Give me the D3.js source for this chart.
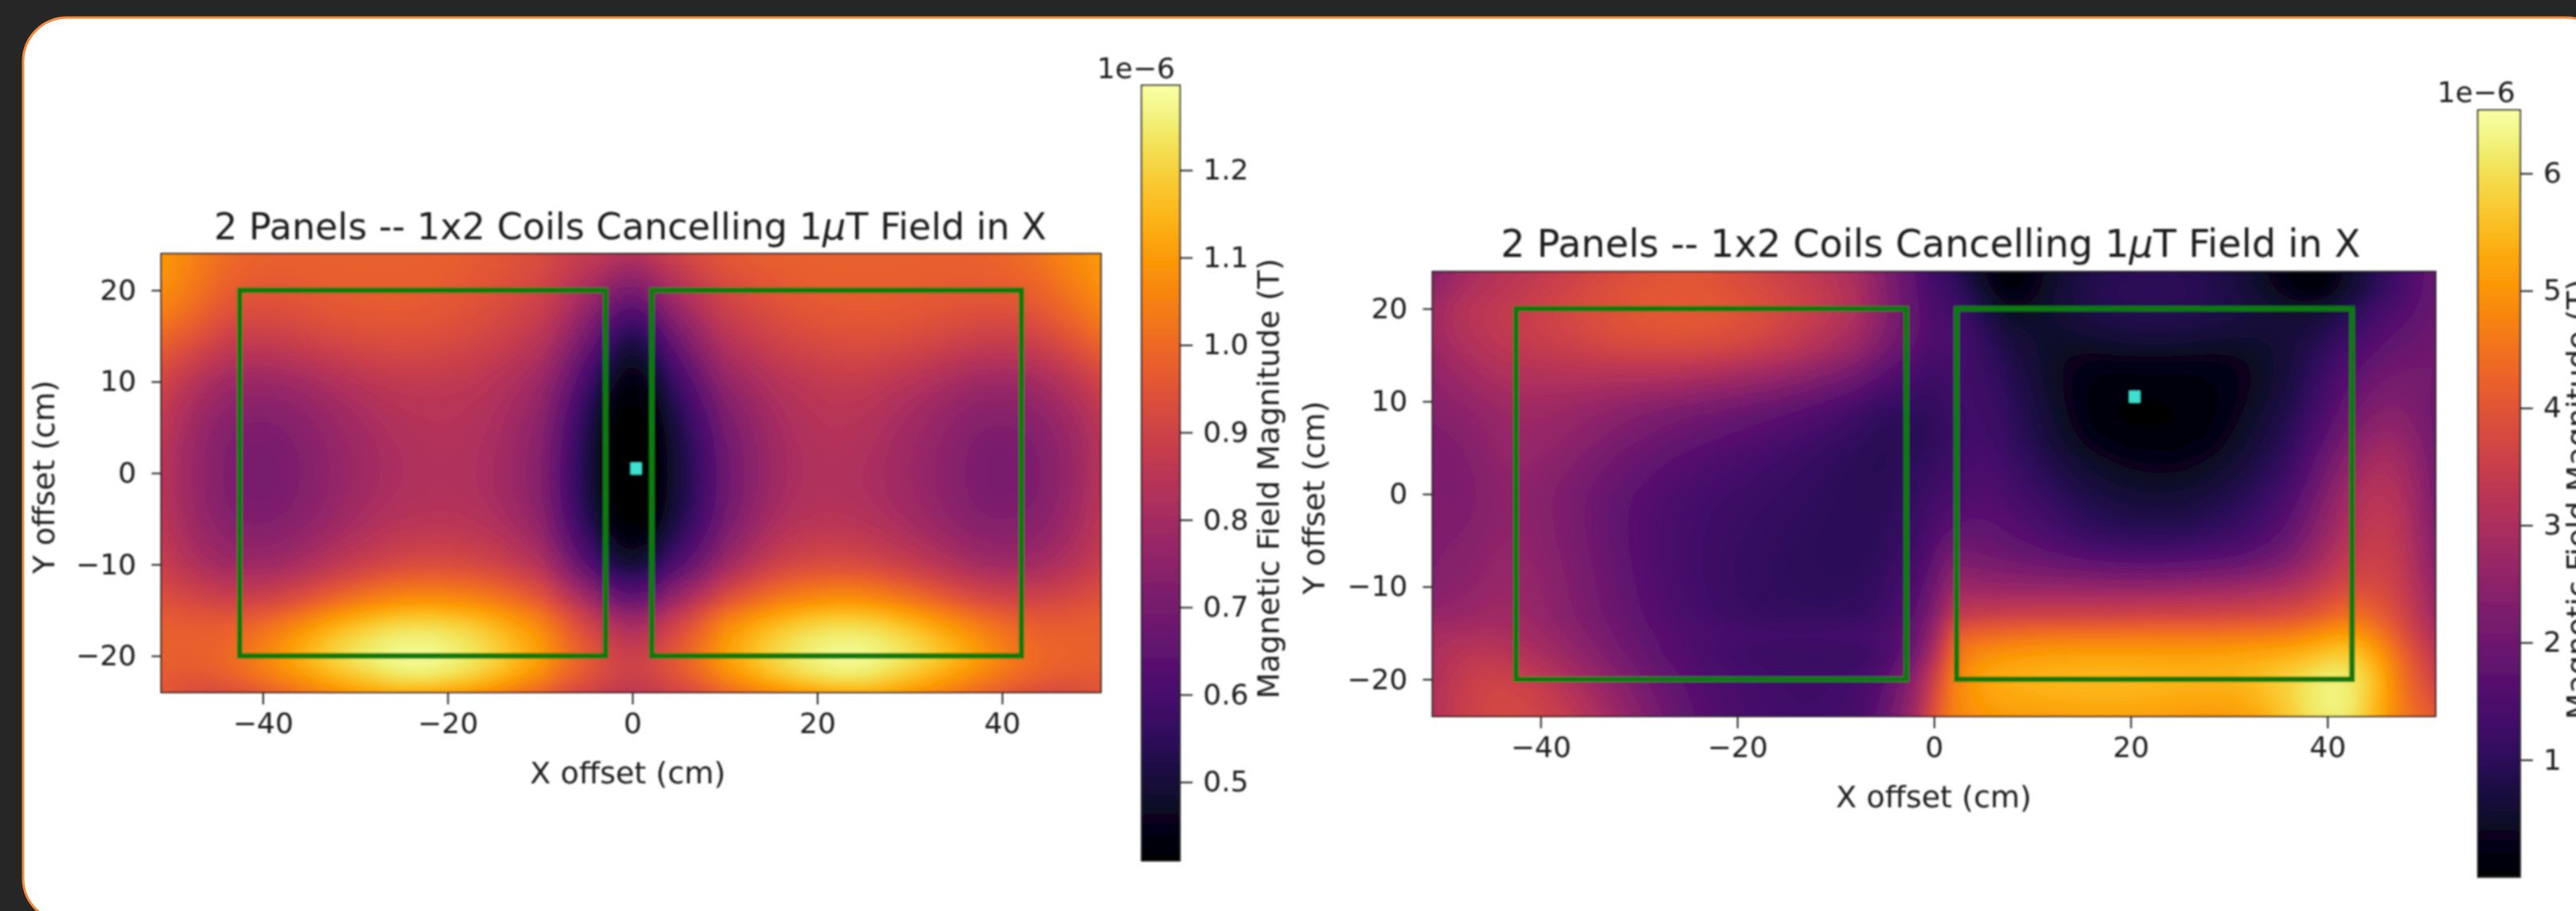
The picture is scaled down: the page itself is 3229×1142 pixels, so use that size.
<!DOCTYPE html>
<html>
<head>
<meta charset="utf-8">
<script src="https://cdnjs.cloudflare.com/ajax/libs/d3/7.8.5/d3.min.js"></script>
<style>
    html, body { margin: 0; padding: 0; background: #262626; overflow: hidden; }
    svg { display: block; }
    text { font-family: "DejaVu Sans", sans-serif; fill: #1c1c1c; }
</style>
</head>
<body>
<div id="chart"></div>
<script>
// tick labels
const xTicks = [-40, -20, 0, 20, 40];
const yTicks = [-20, -10, 0, 10, 20];
const cbTicksA = [0.5, 0.6, 0.7, 0.8, 0.9, 1.0, 1.1, 1.2];
const cbTicksB = [1, 2, 3, 4, 5, 6];

// colour limits in units of 1e-6 T
const cbDomainA = [0.41, 1.297];
const cbDomainB = [0.0, 6.54];

// coils, [x0, x1, y0, y1] in cm
const coilsA = [[-42.5, -2.9, -20, 20], [2.1, 42.1, -20, 20]];
const coilsB = [[-42.5, -2.8, -20, 20], [2.3, 42.5, -20, 20]];

// the one cell that was picked out in each panel
const minCellA = [0.4, 0.5];
const minCellB = [20.4, 10.5];

// field magnitude (1e-6 T)
const colsA = [-51, -47, -43, -38, -33, -28, -24, -20, -15, -10, -7, -4, -2, 0, 2, 4, 7, 10, 15, 20, 24, 28, 33, 38, 43, 47, 51];
const rowsA = [24, 20, 15, 10, 5, 0, -5, -10, -14, -17, -20, -22, -24];
const fieldA = [
    [1.10, 1.04, 0.99, 0.98, 0.98, 0.98, 0.98, 0.98, 0.96, 0.93, 0.89, 0.87, 0.85, 0.83, 0.86, 0.89, 0.93, 0.96, 0.98, 0.98, 0.98, 0.98, 0.98, 0.98, 1.01, 1.06, 1.10],
    [1.09, 1.03, 0.97, 0.96, 0.98, 0.98, 0.98, 0.97, 0.95, 0.91, 0.86, 0.79, 0.74, 0.71, 0.75, 0.81, 0.87, 0.92, 0.96, 0.98, 0.98, 0.98, 0.97, 0.97, 0.98, 1.03, 1.09],
    [1.00, 0.96, 0.88, 0.90, 0.93, 0.95, 0.95, 0.94, 0.91, 0.86, 0.78, 0.66, 0.56, 0.50, 0.56, 0.66, 0.77, 0.85, 0.91, 0.94, 0.95, 0.95, 0.93, 0.90, 0.90, 0.96, 1.02],
    [0.90, 0.82, 0.77, 0.77, 0.81, 0.85, 0.86, 0.86, 0.84, 0.78, 0.68, 0.53, 0.45, 0.42, 0.45, 0.53, 0.66, 0.76, 0.83, 0.86, 0.87, 0.85, 0.81, 0.77, 0.78, 0.83, 0.90],
    [0.86, 0.77, 0.71, 0.71, 0.76, 0.81, 0.83, 0.84, 0.82, 0.75, 0.62, 0.47, 0.41, 0.40, 0.41, 0.47, 0.58, 0.69, 0.80, 0.84, 0.84, 0.81, 0.76, 0.71, 0.72, 0.77, 0.85],
    [0.84, 0.76, 0.70, 0.70, 0.75, 0.80, 0.82, 0.83, 0.81, 0.73, 0.60, 0.47, 0.40, 0.39, 0.40, 0.46, 0.56, 0.67, 0.79, 0.83, 0.82, 0.80, 0.75, 0.70, 0.70, 0.76, 0.84],
    [0.85, 0.77, 0.71, 0.71, 0.76, 0.82, 0.83, 0.84, 0.82, 0.75, 0.61, 0.48, 0.41, 0.40, 0.41, 0.47, 0.57, 0.68, 0.81, 0.84, 0.83, 0.81, 0.76, 0.71, 0.72, 0.77, 0.86],
    [0.88, 0.81, 0.77, 0.78, 0.84, 0.89, 0.92, 0.92, 0.90, 0.83, 0.71, 0.58, 0.50, 0.47, 0.50, 0.58, 0.67, 0.77, 0.89, 0.92, 0.92, 0.89, 0.84, 0.78, 0.78, 0.82, 0.88],
    [0.95, 0.92, 0.90, 0.92, 1.00, 1.07, 1.09, 1.09, 1.06, 0.98, 0.89, 0.79, 0.71, 0.68, 0.71, 0.78, 0.87, 0.96, 1.05, 1.09, 1.10, 1.07, 1.00, 0.93, 0.91, 0.93, 0.96],
    [0.98, 0.98, 0.98, 1.05, 1.15, 1.22, 1.25, 1.24, 1.18, 1.08, 0.99, 0.90, 0.85, 0.82, 0.85, 0.90, 0.99, 1.08, 1.18, 1.24, 1.25, 1.22, 1.14, 1.05, 0.98, 0.98, 0.98],
    [0.98, 0.98, 1.00, 1.10, 1.21, 1.28, 1.29, 1.28, 1.22, 1.11, 1.02, 0.95, 0.91, 0.89, 0.91, 0.95, 1.02, 1.11, 1.22, 1.28, 1.29, 1.27, 1.20, 1.10, 1.00, 0.99, 0.98],
    [0.97, 0.96, 0.99, 1.07, 1.15, 1.22, 1.27, 1.25, 1.18, 1.07, 1.00, 0.94, 0.91, 0.90, 0.91, 0.94, 1.00, 1.07, 1.18, 1.25, 1.27, 1.22, 1.14, 1.06, 0.99, 0.97, 0.97],
    [0.96, 0.92, 0.93, 0.99, 1.07, 1.12, 1.14, 1.12, 1.07, 0.99, 0.93, 0.89, 0.87, 0.85, 0.87, 0.89, 0.93, 0.99, 1.07, 1.12, 1.14, 1.12, 1.06, 0.99, 0.93, 0.92, 0.95]
];

// field magnitude (1e-6 T)
const colsB = [-51, -47, -43, -38, -33, -28, -23, -18, -13, -8, -5, -2, 0, 2, 5, 8, 12, 16, 20, 24, 28, 32, 36, 39, 42, 45, 48, 51];
const rowsB = [24, 22, 20, 17, 14, 10, 7, 4, 0, -4, -7, -10, -13, -15, -17, -19, -21, -24];
const fieldB = [
    [2.4, 3.0, 3.2, 3.5, 3.8, 4.0, 4.0, 3.7, 3.4, 3.0, 2.3, 1.7, 1.2, 1.1, 0.35, 0.0, 0.5, 0.85, 0.95, 0.95, 0.9, 0.6, 0.15, 0.0, 0.45, 0.95, 1.4, 1.9],
    [2.6, 3.1, 3.3, 3.6, 3.9, 4.05, 4.05, 3.8, 3.5, 3.05, 2.35, 1.75, 1.3, 1.2, 0.5, 0.0, 0.55, 0.9, 1.0, 1.0, 0.9, 0.65, 0.2, 0.05, 0.5, 1.0, 1.5, 1.9],
    [2.8, 3.3, 3.4, 3.7, 3.95, 4.1, 4.1, 3.9, 3.6, 3.1, 2.4, 1.8, 1.4, 1.4, 0.85, 0.3, 0.6, 0.85, 0.95, 0.95, 0.9, 0.75, 0.55, 0.55, 0.85, 1.3, 1.6, 1.9],
    [2.8, 3.2, 3.4, 3.6, 3.9, 4.0, 4.0, 3.8, 3.4, 2.9, 2.3, 1.8, 1.5, 1.5, 1.05, 0.65, 0.45, 0.6, 0.7, 0.7, 0.65, 0.55, 0.65, 0.85, 1.2, 1.6, 1.85, 2.0],
    [2.6, 3.0, 3.2, 3.3, 3.4, 3.5, 3.4, 3.2, 2.9, 2.4, 1.9, 1.5, 1.3, 1.4, 1.15, 0.85, 0.4, 0.2, 0.25, 0.25, 0.2, 0.3, 0.65, 1.05, 1.5, 1.9, 2.05, 2.1],
    [2.4, 2.6, 2.85, 2.8, 2.6, 2.4, 2.2, 2.0, 1.75, 1.35, 1.1, 1.05, 1.05, 1.3, 1.3, 1.0, 0.5, 0.1, 0.0, 0.05, 0.12, 0.35, 0.8, 1.25, 1.85, 2.3, 2.3, 2.0],
    [2.3, 2.4, 2.75, 2.65, 2.35, 2.05, 1.85, 1.65, 1.45, 1.1, 0.95, 0.95, 1.0, 1.2, 1.35, 1.05, 0.6, 0.15, 0.05, 0.05, 0.15, 0.5, 0.95, 1.45, 2.1, 2.6, 2.5, 2.0],
    [2.2, 2.3, 2.7, 2.5, 2.1, 1.8, 1.55, 1.35, 1.15, 0.95, 0.9, 1.0, 1.05, 1.25, 1.45, 1.15, 0.75, 0.4, 0.25, 0.2, 0.3, 0.65, 1.05, 1.75, 2.4, 3.0, 2.8, 2.1],
    [2.3, 2.2, 2.6, 2.25, 1.85, 1.5, 1.3, 1.2, 1.05, 0.95, 0.95, 1.1, 1.3, 1.4, 1.6, 1.4, 1.05, 0.75, 0.6, 0.55, 0.7, 0.95, 1.4, 2.1, 2.9, 3.3, 3.0, 2.2],
    [2.3, 2.3, 2.65, 2.3, 1.85, 1.45, 1.25, 1.1, 1.0, 0.95, 1.0, 1.2, 1.5, 1.8, 1.8, 1.7, 1.35, 1.05, 0.95, 0.9, 1.05, 1.25, 1.8, 2.5, 3.1, 3.5, 3.2, 2.3],
    [2.3, 2.4, 2.7, 2.35, 1.9, 1.45, 1.25, 1.05, 1.0, 0.95, 1.05, 1.3, 1.75, 2.3, 2.1, 2.0, 1.8, 1.6, 1.5, 1.5, 1.6, 1.75, 2.2, 2.8, 3.4, 3.6, 3.3, 2.4],
    [2.35, 2.5, 2.8, 2.4, 1.95, 1.5, 1.25, 1.05, 1.0, 1.0, 1.15, 1.5, 2.0, 2.8, 2.6, 2.6, 2.6, 2.6, 2.6, 2.6, 2.7, 2.8, 3.0, 3.4, 3.8, 3.8, 3.4, 2.6],
    [2.6, 2.7, 2.85, 2.45, 2.0, 1.55, 1.3, 1.1, 1.05, 1.05, 1.2, 1.7, 2.3, 3.4, 3.5, 3.6, 3.6, 3.6, 3.65, 3.7, 3.7, 3.75, 3.9, 4.1, 4.5, 4.3, 3.6, 2.8],
    [2.9, 3.0, 3.0, 2.6, 2.1, 1.65, 1.45, 1.35, 1.35, 1.4, 1.45, 1.9, 2.6, 4.2, 4.3, 4.4, 4.5, 4.5, 4.5, 4.5, 4.5, 4.55, 4.6, 4.9, 5.2, 4.7, 3.8, 3.0],
    [3.0, 3.3, 3.2, 2.75, 2.2, 1.7, 1.35, 1.2, 1.15, 1.15, 1.3, 2.0, 2.9, 4.5, 4.9, 5.0, 5.1, 5.1, 5.1, 5.1, 5.1, 5.2, 5.3, 5.5, 5.8, 5.2, 4.1, 3.3],
    [3.0, 3.5, 3.5, 3.0, 2.4, 1.85, 1.45, 1.3, 1.2, 1.25, 1.5, 2.4, 3.4, 4.7, 5.2, 5.3, 5.4, 5.45, 5.45, 5.4, 5.4, 5.45, 5.7, 6.0, 6.2, 5.5, 4.3, 3.5],
    [3.1, 3.6, 3.75, 3.3, 2.6, 1.95, 1.5, 1.3, 1.25, 1.3, 1.7, 2.6, 3.7, 4.8, 5.25, 5.4, 5.5, 5.5, 5.5, 5.45, 5.4, 5.45, 5.9, 6.3, 6.4, 5.6, 4.4, 3.7],
    [3.1, 3.6, 3.8, 3.5, 2.85, 2.1, 1.55, 1.35, 1.25, 1.35, 1.85, 2.8, 4.0, 4.8, 5.0, 5.1, 5.1, 5.2, 5.2, 5.1, 5.05, 5.1, 5.7, 6.2, 6.3, 5.4, 4.5, 4.1]
];

const title = ["2 Panels -- 1x2 Coils Cancelling 1", "\u03bc", "T Field in X"];
const xLabel = "X offset (cm)";
const yLabel = "Y offset (cm)";
const cbLabel = "Magnetic Field Magnitude (T)";
const offsetLabel = "1e\u22126";

const svg = d3.select("#chart").append("svg")
    .attr("width", 3229)
    .attr("height", 1142);

// card behind the figures, runs off the right and bottom of the screenshot
svg.append("rect")
    .attr("x", 29).attr("y", 22)
    .attr("width", 3243).attr("height", 1134)
    .attr("rx", 55).attr("ry", 55)
    .attr("fill", "white")
    .attr("stroke", "#f58a3c")
    .attr("stroke-width", 3);

// the screenshot is a soft upscale, so everything on the card is a little blurred
const defs = svg.append("defs");
defs.append("filter").attr("id", "soft")
    .attr("filterUnits", "userSpaceOnUse")
    .attr("x", 0).attr("y", 0)
    .attr("width", 3229).attr("height", 1142)
    .append("feGaussianBlur").attr("stdDeviation", 1.1);

const figure = svg.append("g").attr("filter", "url(#soft)");

// Paints a value grid as an image: splines the values, then colours each pixel
function drawField(g, x, y, cols, rows, grid, color) {
    const [x0, x1] = x.range();
    const [y0, y1] = y.range();
    const w = Math.round(x1 - x0);
    const h = Math.round(y1 - y0);
    const canvas = document.createElement("canvas");
    canvas.width = w;
    canvas.height = h;
    const ctx = canvas.getContext("2d");
    const img = ctx.createImageData(w, h);

    const xPos = d3.scaleLinear().domain(cols).range(cols.map((d, i) => i / (cols.length - 1))).clamp(true);
    const yPos = d3.scaleLinear().domain(rows).range(rows.map((d, i) => i / (rows.length - 1))).clamp(true);
    const rowCurves = grid.map(r => d3.interpolateBasis(r));

    const [d0, d1] = color.domain();
    const lut = d3.range(1024).map(i => d3.rgb(color(d0 + (d1 - d0) * i / 1023)));
    const px = d3.scaleLinear().domain([d0, d1]).range([0, 1023]).clamp(true);

    for (let i = 0; i < w; i++) {
        const tx = xPos(x.invert(x0 + i + 0.5));
        const colCurve = d3.interpolateBasis(rowCurves.map(c => c(tx)));
        for (let j = 0; j < h; j++) {
            const c = lut[Math.round(px(colCurve(yPos(y.invert(y0 + j + 0.5)))))];
            const k = (j * w + i) * 4;
            img.data[k] = c.r;
            img.data[k + 1] = c.g;
            img.data[k + 2] = c.b;
            img.data[k + 3] = 255;
        }
    }
    ctx.putImageData(img, 0, 0);

    g.append("image")
        .attr("x", x0).attr("y", y0)
        .attr("width", w).attr("height", h)
        .attr("preserveAspectRatio", "none")
        .attr("href", canvas.toDataURL());
}

function styleAxis(axis) {
    axis.select(".domain").remove();
    axis.selectAll("line").attr("stroke", "#222").attr("stroke-width", 2);
    axis.selectAll("text").style("font-family", '"DejaVu Sans", sans-serif').style("fill", "#1c1c1c");
}

function drawPanel(o) {
    const g = figure.append("g");
    const color = d3.scaleSequential(d3.interpolateInferno).domain(o.cbDomain);
    const x = d3.scaleLinear().domain(o.xDomain).range(o.xRange);
    const y = d3.scaleLinear().domain([24, -24]).range(o.yRange);

    drawField(g, x, y, o.cols, o.rows, o.grid, color);

    // coils
    g.selectAll(".coil")
        .data(o.coils)
        .enter().append("rect")
        .attr("class", "coil")
        .attr("x", d => x(d[0]))
        .attr("y", d => y(d[3]))
        .attr("width", d => x(d[1]) - x(d[0]))
        .attr("height", d => y(d[2]) - y(d[3]))
        .attr("fill", "none")
        .attr("stroke", "#0f7a08")
        .attr("stroke-width", 7);

    // lowest field cell
    g.append("rect")
        .attr("x", x(o.minCell[0]) - 7)
        .attr("y", y(o.minCell[1]) - 7.5)
        .attr("width", 14)
        .attr("height", 15)
        .attr("fill", "#40e0d0");

    // frame
    g.append("rect")
        .attr("x", o.xRange[0]).attr("y", o.yRange[0])
        .attr("width", o.xRange[1] - o.xRange[0])
        .attr("height", o.yRange[1] - o.yRange[0])
        .attr("fill", "none")
        .attr("stroke", "#222")
        .attr("stroke-width", 2);

    const xAxis = g.append("g")
        .attr("transform", "translate(0," + o.yRange[1] + ")")
        .call(d3.axisBottom(x).tickValues(xTicks).tickSize(15).tickPadding(10));
    const yAxis = g.append("g")
        .attr("transform", "translate(" + o.xRange[0] + ",0)")
        .call(d3.axisLeft(y).tickValues(yTicks).tickSize(12).tickPadding(19));
    xAxis.attr("font-size", o.tickFont);
    yAxis.attr("font-size", o.tickFont);
    styleAxis(xAxis);
    styleAxis(yAxis);

    const t = g.append("text")
        .attr("x", o.titleX).attr("y", o.titleY)
        .attr("text-anchor", "middle")
        .style("font-size", o.titleFont + "px");
    t.append("tspan").text(title[0]);
    t.append("tspan").style("font-style", "italic").text(title[1]);
    t.append("tspan").text(title[2]);

    g.append("text")
        .attr("x", o.xLabelX).attr("y", o.xLabelY)
        .attr("text-anchor", "middle")
        .style("font-size", o.labelFont + "px")
        .text(xLabel);

    g.append("text")
        .attr("transform", "translate(" + o.yLabelX + "," + o.yLabelY + ") rotate(-90)")
        .attr("text-anchor", "middle")
        .style("font-size", o.labelFont + "px")
        .text(yLabel);

    // colorbar
    const cb = d3.scaleLinear().domain(o.cbDomain).range([o.cbY[1], o.cbY[0]]);
    const gradId = "grad" + o.id;
    const grad = defs.append("linearGradient").attr("id", gradId)
        .attr("x1", 0).attr("y1", 1).attr("x2", 0).attr("y2", 0);
    d3.range(0, 1.0001, 1 / 48).forEach(s => {
        grad.append("stop")
            .attr("offset", s)
            .attr("stop-color", color(o.cbDomain[0] + s * (o.cbDomain[1] - o.cbDomain[0])));
    });
    g.append("rect")
        .attr("x", o.cbX[0]).attr("y", o.cbY[0])
        .attr("width", o.cbX[1] - o.cbX[0])
        .attr("height", o.cbY[1] - o.cbY[0])
        .attr("fill", "url(#" + gradId + ")")
        .attr("stroke", "#222")
        .attr("stroke-width", 2);

    const cbAxis = g.append("g")
        .attr("transform", "translate(" + o.cbX[1] + ",0)")
        .call(d3.axisRight(cb).tickValues(o.cbTicks).tickFormat(o.cbFormat).tickSize(16).tickPadding(13));
    cbAxis.attr("font-size", o.tickFont);
    styleAxis(cbAxis);

    g.append("text")
        .attr("x", o.offsetX).attr("y", o.offsetY)
        .attr("text-anchor", "end")
        .style("font-size", o.tickFont + "px")
        .text(offsetLabel);

    g.append("text")
        .attr("transform", "translate(" + o.cbLabelX + "," + o.cbLabelY + ") rotate(-90)")
        .attr("text-anchor", "middle")
        .style("font-size", o.labelFont + "px")
        .text(cbLabel);
}

drawPanel({
    id: "A", cols: colsA, rows: rowsA, grid: fieldA, coils: coilsA, minCell: minCellA,
    xDomain: [-51, 50.7], xRange: [202, 1380], yRange: [318, 868],
    cbDomain: cbDomainA, cbTicks: cbTicksA, cbFormat: d3.format(".1f"),
    cbX: [1431, 1479], cbY: [107, 1079],
    tickFont: 36, labelFont: 38, titleFont: 46,
    titleX: 790, titleY: 300, xLabelX: 787, xLabelY: 982, yLabelX: 68, yLabelY: 598,
    offsetX: 1473, offsetY: 98, cbLabelX: 1603, cbLabelY: 600
});

drawPanel({
    id: "B", cols: colsB, rows: rowsB, grid: fieldB, coils: coilsB, minCell: minCellB,
    xDomain: [-51, 51], xRange: [1795.5, 3053], yRange: [340.5, 898],
    cbDomain: cbDomainB, cbTicks: cbTicksB, cbFormat: d3.format("d"),
    cbX: [3106, 3159], cbY: [138, 1099.5],
    tickFont: 36, labelFont: 38, titleFont: 47.5,
    titleX: 2420, titleY: 322, xLabelX: 2424, xLabelY: 1012, yLabelX: 1660, yLabelY: 624,
    offsetX: 3153, offsetY: 128, cbLabelX: 3244, cbLabelY: 626
});
</script>
</body>
</html>
